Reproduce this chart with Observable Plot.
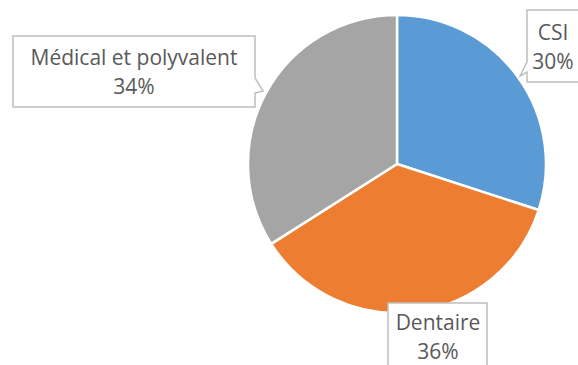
<!DOCTYPE html>
<html><head><meta charset="utf-8">
<script src="https://cdn.jsdelivr.net/npm/d3@7"></script>
<script src="https://cdn.jsdelivr.net/npm/@observablehq/plot@0.6"></script>
<style>body{margin:0;background:#fff;overflow:hidden}</style>
</head><body><div id="chart"></div>
<script>
// ---- data ----
const categories = ["CSI", "Dentaire", "Médical et polyvalent"];
const values = [30, 36, 34];
const percentLabels = ["30%", "36%", "34%"];
const colors = ["#5B9BD5", "#ED7D31", "#A5A5A5"];

const data = categories.map((c, i) => ({category: c, value: values[i], label: percentLabels[i]}));

// ---- layout (pixels) ----
const W = 578, H = 365;
const pieCenter = [{x: 397, y: 164}];
const radius = 149;
// callout boxes: [x1, y1, x2, y2], pointer triangle (on an edge), text centre
const callouts = {
  "CSI": {box: [527, 10, 600, 82], pointer: [[527, 62], [520, 76], [527, 72]], tx: 553, ty: 33},
  "Dentaire": {box: [388, 303, 487, 380], pointer: null, tx: 438, ty: 323},
  "Médical et polyvalent": {box: [13, 36, 255, 107], pointer: [[255, 78], [263, 91], [255, 93]], tx: 134, ty: 58}
};
const lineGap = 29;

function pieMark(index, scales, values_, dimensions, context) {
  const g = d3.create("svg:g");
  const cx = scales.x(pieCenter[0].x), cy = scales.y(pieCenter[0].y);
  const pie = d3.pie().sort(null).value(d => d.value)(data);
  const arc = d3.arc().innerRadius(0).outerRadius(radius);
  g.append("g").attr("transform", `translate(${cx},${cy})`)
    .selectAll("path").data(pie).join("path")
    .attr("d", arc)
    .attr("fill", d => scales.color(d.data.category))
    .attr("stroke", "#fff").attr("stroke-width", 2.5).attr("stroke-linejoin", "round");
  const X = v => scales.x(v), Y = v => scales.y(v);
  for (const d of data) {
    const c = callouts[d.category];
    const [x1, y1, x2, y2] = c.box;
    let pts;
    if (c.pointer && c.pointer[0][0] === x2) {
      pts = [[x1, y1], [x2, y1], ...c.pointer, [x2, y2], [x1, y2]];
    } else if (c.pointer && c.pointer[0][0] === x1) {
      pts = [[x1, y1], [x2, y1], [x2, y2], [x1, y2], [x1, c.pointer[2][1]], c.pointer[1], [x1, c.pointer[0][1]]];
    } else {
      pts = [[x1, y1], [x2, y1], [x2, y2], [x1, y2]];
    }
    g.append("path")
      .attr("d", "M" + pts.map(p => `${X(p[0])},${Y(p[1])}`).join("L") + "Z")
      .attr("fill", "#fff").attr("stroke", "#BFBFBF").attr("stroke-width", 1.5);
    const t = g.append("text").attr("text-anchor", "middle")
      .attr("font-family", "'Open Sans', sans-serif").attr("font-size", 21).attr("fill", "#595959");
    t.append("tspan").attr("x", X(c.tx)).attr("y", Y(c.ty)).attr("dy", "0.35em").text(d.category);
    t.append("tspan").attr("x", X(c.tx)).attr("y", Y(c.ty + lineGap)).attr("dy", "0.35em").text(d.label);
  }
  return g.node();
}

const chart = Plot.plot({
  width: W, height: H,
  margin: 0,
  x: {domain: [0, W], range: [0, W], axis: null},
  y: {domain: [0, H], range: [0, H], axis: null},
  color: {domain: categories, range: colors},
  style: {background: "#fff", overflow: "hidden"},
  marks: [
    Plot.dot(data, {x: () => pieCenter[0].x, y: () => pieCenter[0].y, fill: "category", r: 0}),
    pieMark
  ]
});
document.getElementById("chart").append(chart);
</script>
</body></html>
